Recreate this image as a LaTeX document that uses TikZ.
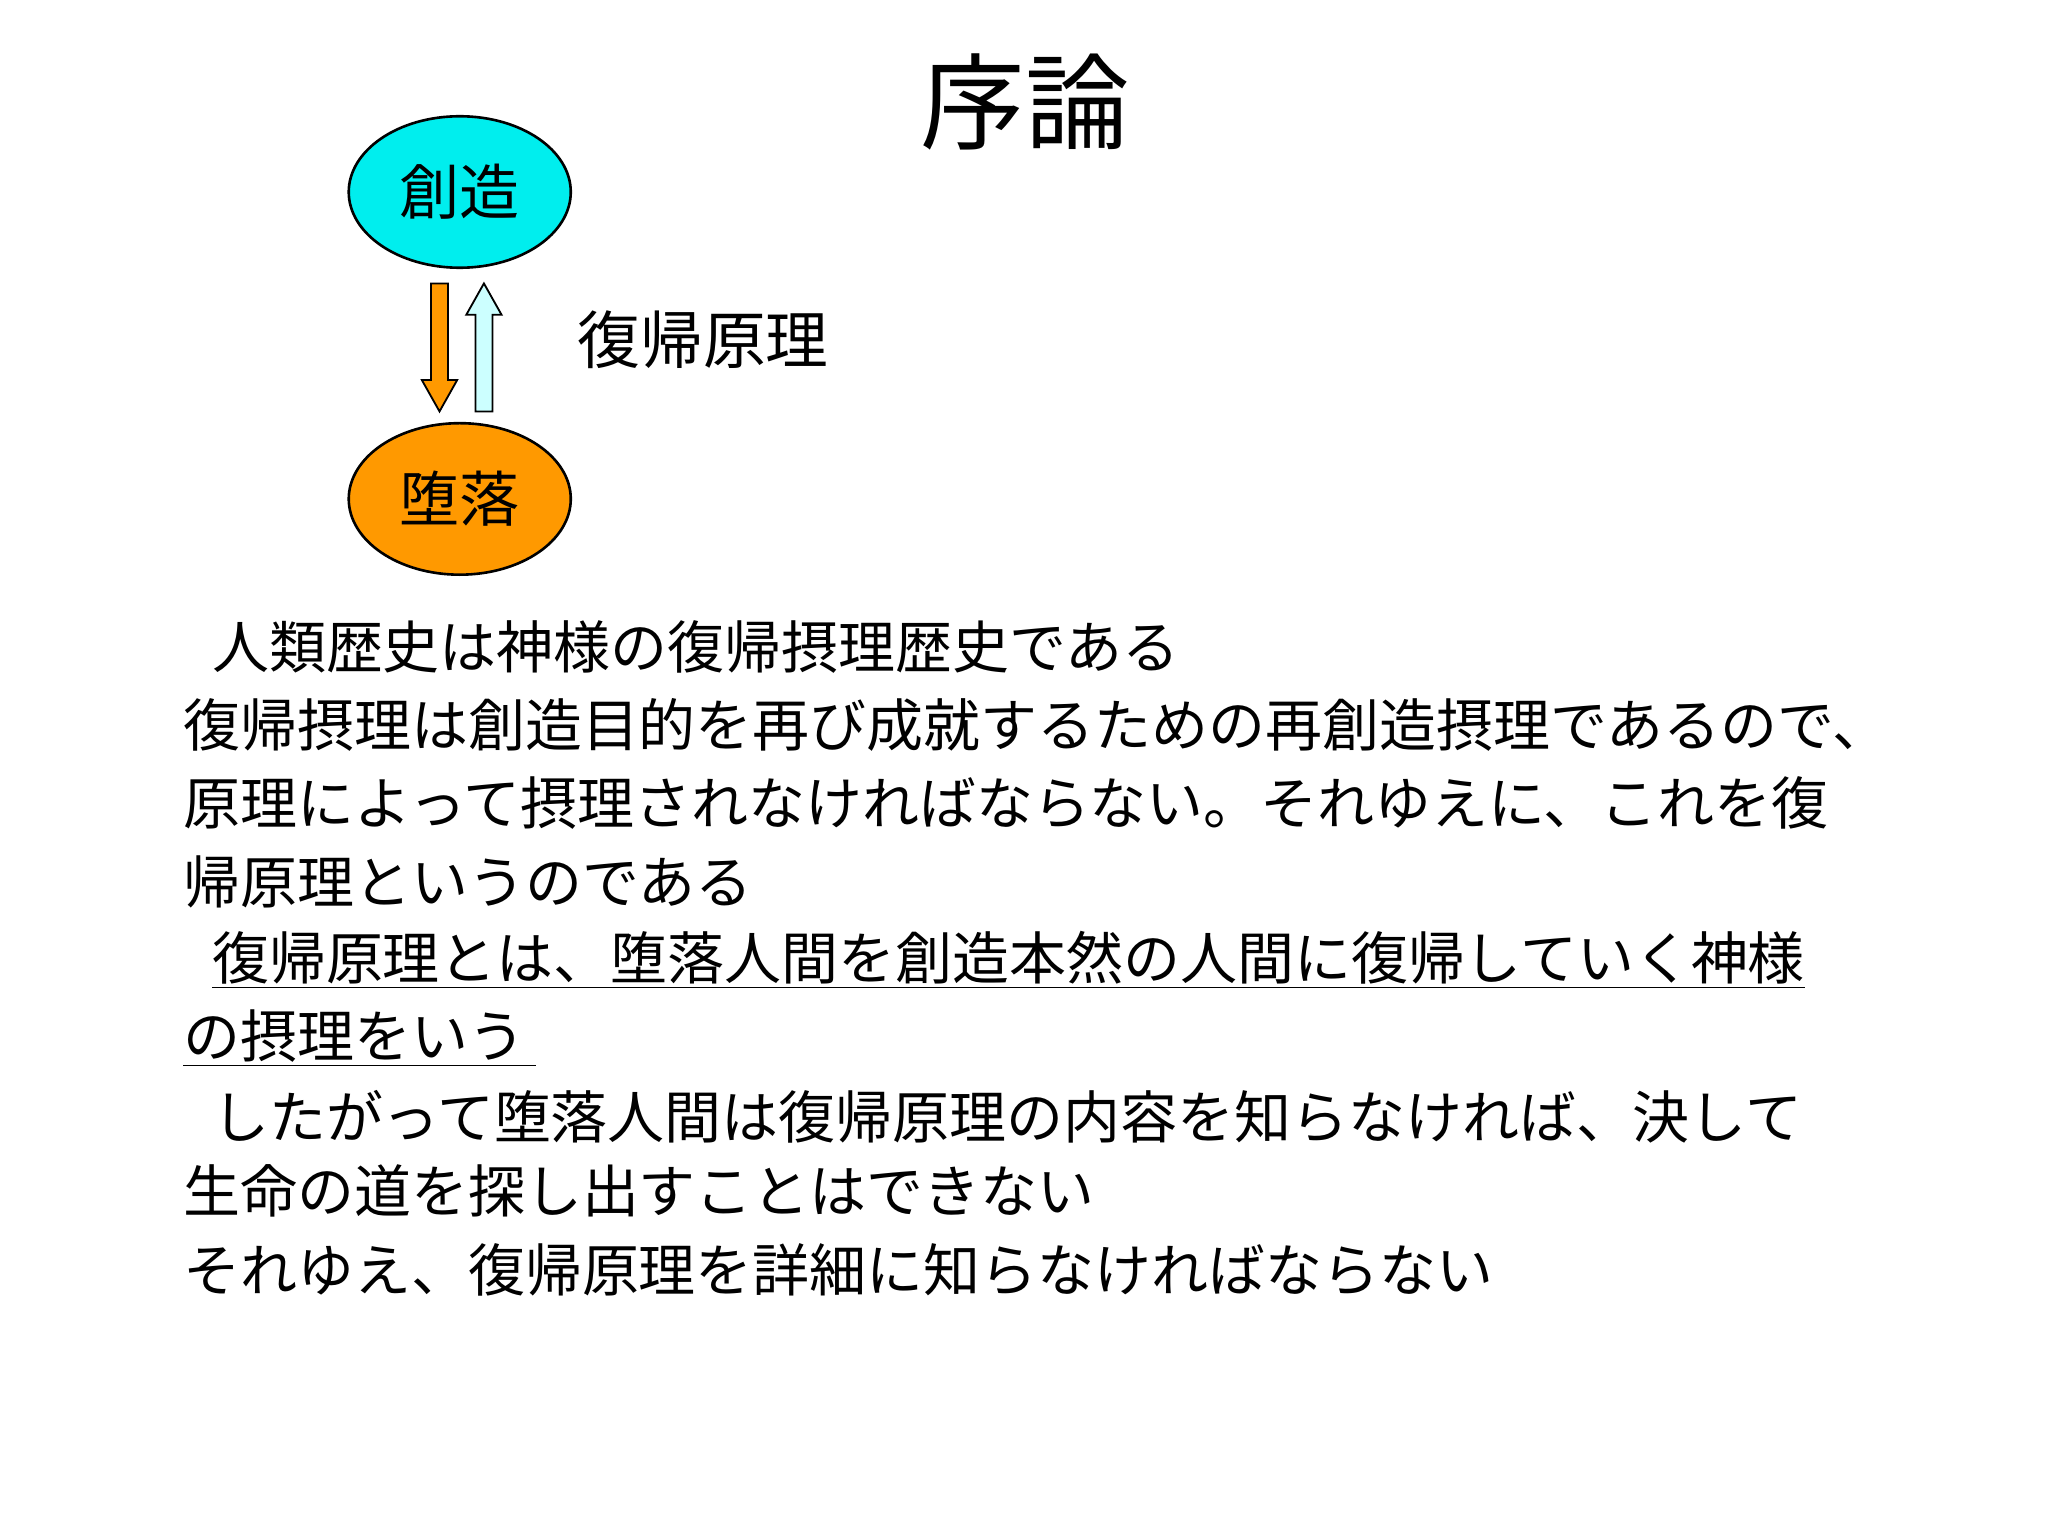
\documentclass[tikz,border=0pt]{standalone}
\usepackage{fontspec}
\newfontfamily\cjk{Noto Sans CJK JP}
\usetikzlibrary{shapes.geometric}
\definecolor{cyanC}{RGB}{0,238,238}
\definecolor{orangeC}{RGB}{255,153,0}
\definecolor{paleC}{RGB}{204,255,255}
\begin{document}
\begin{tikzpicture}[x=0.5pt,y=-0.5pt,
  body/.style={anchor=west,inner sep=0pt,font=\cjk\fontsize{21.8pt}{24pt}\selectfont},
  oval/.style={draw=black,line width=1pt,ellipse,minimum width=85pt,minimum height=58pt,font=\cjk\fontsize{23pt}{26pt}\selectfont},
  blk/.style={draw=black,line width=0.7pt,line join=miter}]
\useasboundingbox (0,0) rectangle (1568,1176);
\fill[white] (0,0) rectangle (1568,1176);
\node[font=\cjk\fontsize{40pt}{44pt}\selectfont] (title) at (785,78) {序論};
\node[oval,fill=cyanC] (c) at (352,147) {創造};
\node[oval,fill=orangeC] (f) at (352,382) {堕落};
\draw[blk,fill=orangeC] (330,217) -- (343,217) -- (343,291) -- (350,291) -- (336.5,315) -- (323,291) -- (330,291) -- cycle;
\draw[blk,fill=paleC] (364,315) -- (377,315) -- (377,241) -- (384,241) -- (370.5,217) -- (357,241) -- (364,241) -- cycle;
\node[anchor=west,inner sep=0pt,font=\cjk\fontsize{24pt}{26pt}\selectfont] (lbl) at (442,260) {復帰原理};
\node[body] (l1) at (140,495) {\hspace{11pt}人類歴史は神様の復帰摂理歴史である};
\node[body] (l2) at (140,555) {復帰摂理は創造目的を再び成就するための再創造摂理であるので、};
\node[body] (l3) at (140,615) {原理によって摂理されなければならない。それゆえに、これを復};
\node[body] (l4) at (140,675) {帰原理というのである};
\node[body] (l5) at (140,735) {\hspace{11pt}\underline{復帰原理とは、堕落人間を創造本然の人間に復帰していく神様}};
\node[body] (l6) at (140,795) {\underline{の摂理をいう\hspace{4pt}}};
\node[body] (l7) at (140,855) {\hspace{11pt}したがって堕落人間は復帰原理の内容を知らなければ、決して};
\node[body] (l8) at (140,912) {生命の道を探し出すことはできない};
\node[body] (l9) at (140,972) {それゆえ、復帰原理を詳細に知らなければならない};
\end{tikzpicture}
\end{document}
